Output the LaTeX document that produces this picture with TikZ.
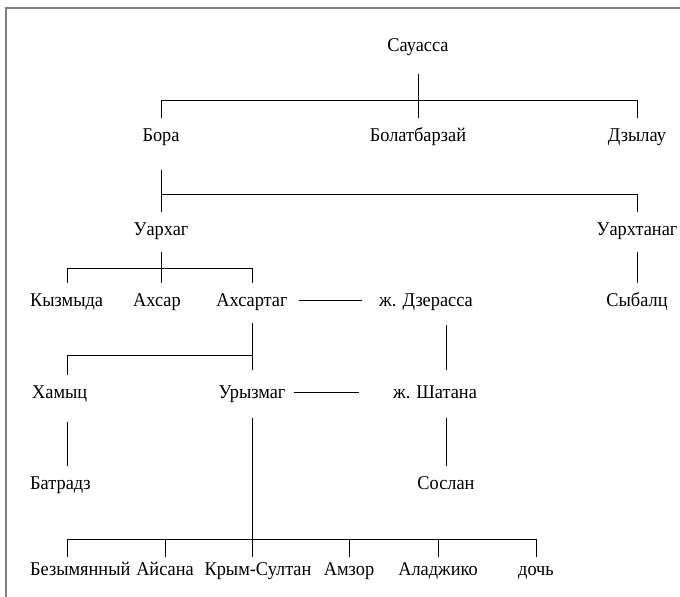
\documentclass[tikz,border=0pt]{standalone}
\usepackage{fontspec}
\setmainfont[FakeStretch=0.94]{Liberation Serif}
\usetikzlibrary{positioning}
\newcommand{\imyashrift}{\fontsize{19.5}{22}\selectfont}
\tikzset{
  imya/.style={inner sep=0pt, minimum height=34pt, text height=13pt, text depth=0pt, font=\imyashrift},
  imyaniz/.style={imya, minimum height=24pt},
  svyaz/.style={line width=0.9pt, black},
  ramka/.style={line width=1.5pt, black!50},
}

\begin{document}
\begin{tikzpicture}[x=1pt, y=-1pt]
  \useasboundingbox (0,0) rectangle (680,597);
  \draw[ramka] (680,8) -- (6,8) -- (6,597);

  \node[imya] (sau) at (418,45) {Сауасса};
  \node[imya] (bora) at (161,135) {Бора};
  \node[imya] (bolat) at (418,135) {Болатбарзай};
  \node[imya] (dzyl) at (637,135) {Дзылау};
  \node[imya] (uarh) at (161,229) {Уархаг};
  \node[imya] (uarht) at (637,229) {Уархтанаг};
  \node[imya, anchor=west] (kyz) at (30,300) {Кызмыда};
  \node[imya] (ahsar) at (157,300) {Ахсар};
  \node[imya] (ahsartag) at (252,300) {Ахсартаг};
  \node[imya] (dzer) at (426,300) {ж. Дзерасса};
  \node[imya] (sybal) at (637,300) {Сыбалц};
  \node[imya, anchor=west] (hamyc) at (32,392) {Хамыц};
  \node[imya] (uryz) at (252,392) {Урызмаг};
  \node[imya] (shat) at (435,392) {ж. Шатана};
  \node[imya, anchor=west] (batr) at (30,483) {Батрадз};
  \node[imya] (soslan) at (446,483) {Сослан};
  \node[imyaniz, anchor=west] (bez) at (30,569) {Безымянный};
  \node[imyaniz] (ajs) at (165,569) {Айсана};
  \node[imyaniz] (krym) at (258,569) {Крым-Султан};
  \node[imyaniz] (amz) at (349,569) {Амзор};
  \node[imyaniz] (alad) at (438,569) {Аладжико};
  \node[imyaniz] (doch) at (536,569) {дочь};

  \coordinate (sauBar) at (161,100);
  \coordinate (boraBar) at (161,194);
  \coordinate (uarhBar) at (67,268);
  \coordinate (ahsBar) at (67,355);
  \coordinate (nizBar) at (67,539);

  \draw[svyaz, shorten <=12pt] (sau.south) -- (bolat.north);
  \draw[svyaz] (bora.north) -- (sauBar) -| (dzyl.north);
  \draw[svyaz, shorten <=18pt] (bora.south) -- (uarh.north);
  \draw[svyaz] (boraBar) -| (uarht.north);
  \draw[svyaz, shorten <=6pt] (uarh.south) -- (uarh.south |- ahsar.north);
  \draw[svyaz] (ahsartag.north) |- (uarhBar) -- (uarhBar |- kyz.north);
  \draw[svyaz, shorten <=6pt] (uarht.south) -- (sybal.north);
  \draw[svyaz, shorten <=11pt, shorten >=17pt] (ahsartag.east) -- (dzer.west);
  \draw[svyaz, shorten <=6pt, shorten >=5pt] (ahsartag.south) -- (uryz.north);
  \draw[svyaz] (ahsartag |- ahsBar) -- (ahsBar) -- (ahsBar |- hamyc.north);
  \draw[svyaz, shorten <=8pt, shorten >=5pt] (dzer.south -| soslan) -- (shat.north -| soslan);
  \draw[svyaz, shorten <=8pt, shorten >=34pt] (uryz.east) -- (shat.west);
  \draw[svyaz, shorten <=13pt] (hamyc.south -| ahsBar) -- (batr.north -| ahsBar);
  \draw[svyaz, shorten <=9pt] (shat.south -| soslan) -- (soslan.north);
  \draw[svyaz, shorten <=9pt] (uryz.south) -- (uryz.south |- krym.north);
  \draw[svyaz] (nizBar |- bez.north) -- (nizBar) -- (nizBar -| doch.north) -- (doch.north);
  \foreach \imya in {ajs,amz,alad}
    \draw[svyaz] (\imya.north |- nizBar) -- (\imya.north);
\end{tikzpicture}
\end{document}
